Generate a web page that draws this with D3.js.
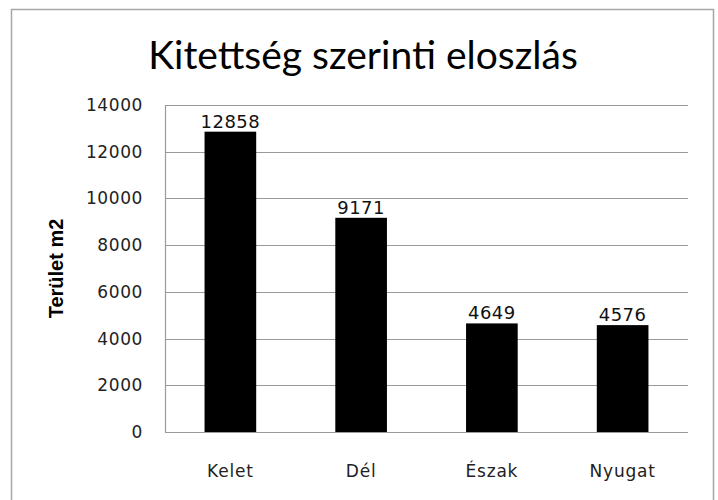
<!DOCTYPE html>
<html>
<head>
<meta charset="utf-8">
<script src="https://cdn.jsdelivr.net/npm/d3@7"></script>
<style>
  body { margin: 0; background: #fff; }
  svg { display: block; }
</style>
</head>
<body>
<div id="chart"></div>
<script>
// adatok
var categories = ["Kelet", "Dél", "Észak", "Nyugat"];
var values = [12858, 9171, 4649, 4576];
var yTicks = [0, 2000, 4000, 6000, 8000, 10000, 12000, 14000];

var width = 718, height = 500;
var margin = {top: 105, right: 30, bottom: 68, left: 165};

var svg = d3.select("#chart")
    .append("svg")
    .attr("width", width)
    .attr("height", height);

// keret
svg.append("rect")
    .attr("x", 11.5)
    .attr("y", 9.5)
    .attr("width", 702)
    .attr("height", 510)
    .attr("fill", "none")
    .attr("stroke", "#a6a6a6")
    .attr("stroke-width", 1.5);

// cím
svg.append("text")
    .attr("x", 363)
    .attr("y", 69)
    .attr("text-anchor", "middle")
    .style("font-family", "Lato, 'Open Sans', sans-serif")
    .style("font-size", "39px")
    .style("fill", "#000")
    .text("Kitettség szerinti eloszlás");

var x = d3.scaleBand()
    .domain(categories)
    .range([margin.left, width - margin.right])
    .paddingInner(0.605)
    .paddingOuter(0.3025);

var y = d3.scaleLinear()
    .domain([0, 14000])
    .range([height - margin.bottom, margin.top]);

// rácsvonalak
svg.append("g")
    .selectAll("line")
    .data(yTicks)
    .enter()
    .append("line")
    .attr("x1", margin.left)
    .attr("x2", width - margin.right)
    .attr("y1", d => Math.round(y(d)) + 0.5)
    .attr("y2", d => Math.round(y(d)) + 0.5)
    .attr("stroke", "#9a9a9a")
    .attr("stroke-width", 1.2);

// függőleges tengely
svg.append("line")
    .attr("x1", margin.left + 0.5)
    .attr("x2", margin.left + 0.5)
    .attr("y1", y(14000))
    .attr("y2", y(0))
    .attr("stroke", "#9a9a9a")
    .attr("stroke-width", 1.2);

// y tengely feliratai
svg.append("g")
    .selectAll("text")
    .data(yTicks)
    .enter()
    .append("text")
    .attr("x", 143)
    .attr("y", d => y(d))
    .attr("dy", "0.35em")
    .attr("text-anchor", "end")
    .style("font-family", "'DejaVu Sans', Verdana, sans-serif")
    .style("font-size", "17px")
    .style("letter-spacing", "0.6px")
    .style("fill", "#222")
    .text(d => d);

// y tengely címe
svg.append("text")
    .attr("transform", "translate(63," + ((y(0) + y(14000)) / 2) + ") rotate(-90)")
    .attr("text-anchor", "middle")
    .style("font-family", "'Liberation Sans', Arial, sans-serif")
    .style("font-weight", "bold")
    .style("font-size", "20px")
    .style("fill", "#000")
    .text("Terület m2");

// oszlopok
svg.append("g")
    .selectAll("rect")
    .data(values)
    .enter()
    .append("rect")
    .attr("x", (d, i) => x(categories[i]))
    .attr("y", d => y(d))
    .attr("width", x.bandwidth())
    .attr("height", d => y(0) - y(d))
    .attr("fill", "#000");

// értékcímkék
svg.append("g")
    .selectAll("text")
    .data(values)
    .enter()
    .append("text")
    .attr("x", (d, i) => x(categories[i]) + x.bandwidth() / 2)
    .attr("y", d => y(d) - 4)
    .attr("text-anchor", "middle")
    .style("font-family", "'DejaVu Sans', Verdana, sans-serif")
    .style("font-size", "18px")
    .style("letter-spacing", "0.5px")
    .style("fill", "#111")
    .text(d => d);

// kategória feliratok
svg.append("g")
    .selectAll("text")
    .data(categories)
    .enter()
    .append("text")
    .attr("x", d => x(d) + x.bandwidth() / 2)
    .attr("y", 477)
    .attr("text-anchor", "middle")
    .style("font-family", "'DejaVu Sans', Verdana, sans-serif")
    .style("font-size", "17px")
    .style("letter-spacing", "0.8px")
    .style("fill", "#222")
    .text(d => d);
</script>
</body>
</html>
